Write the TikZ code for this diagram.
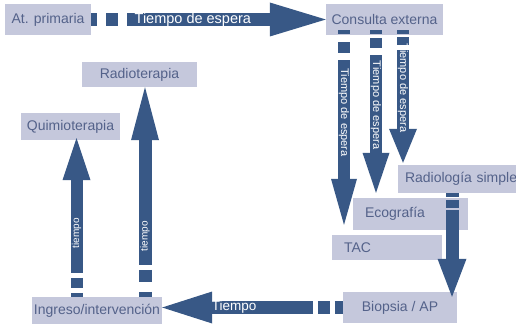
\documentclass[tikz,border=0pt]{standalone}
\usepackage{fontspec}
\setmainfont{Liberation Sans}
\usetikzlibrary{arrows.meta,calc}
\definecolor{arrowc}{RGB}{56,88,134}
\definecolor{boxc}{RGB}{197,200,220}
\definecolor{textc}{RGB}{84,98,138}
\begin{document}
\begin{tikzpicture}[x=1pt,y=-1pt,
  box/.style={fill=boxc, text=textc, font=\fontsize{14}{16}\selectfont, inner sep=0pt},
  bar/.style={draw=arrowc, line width=#1},
  harrow/.style 2 args={draw=arrowc, line width=13pt, -{Triangle[length=#1,width=#2,line width=0pt]}},
  varrow/.style 2 args={draw=arrowc, line width=12pt, -{Triangle[length=#1,width=#2,line width=0pt]}},
  lab/.style={text=white, inner sep=0pt, font=#1},
]
\useasboundingbox (0,0) rectangle (516,326);
\clip (0,0) rectangle (516,326);
\fill[white] (0,0) rectangle (516,326);

% boxes
\node[box, minimum width=86pt, minimum height=31pt] (prim) at (48,19.5) {At. primaria};
\node[box, minimum width=117pt, minimum height=31pt] (cons) at (384.5,19.5) {Consulta externa};
\node[box, text width=113pt, inner xsep=7pt, minimum height=28pt, align=left] (radsim) at (461.5,179) {Radiología simple};
\node[box, text width=91pt, inner xsep=12pt, minimum height=32pt, align=left] (eco) at (410.5,214) {Ecografía};
\node[box, text width=86pt, inner xsep=12pt, minimum height=25pt, align=left] (tac) at (387,247.5) {TAC};
\node[box, minimum width=114pt, minimum height=31pt] (bio) at (400,307.5) {Biopsia / AP};
\node[box, minimum width=130pt, minimum height=27pt] (ing) at (97,310.5) {Ingreso/intervención};
\node[box, minimum width=99pt, minimum height=27pt] (quim) at (70.5,126.5) {Quimioterapia};
\node[box, minimum width=115pt, minimum height=25pt] (radio) at (139.5,74.5) {Radioterapia};

% top arrow: At. primaria -> Consulta externa
\draw[bar=13pt] (prim.east) -- ([xshift=6pt]prim.east);
\draw[bar=13pt] ([xshift=15pt]prim.east) -- ([xshift=27pt]prim.east);
\draw[harrow={56pt}{34pt}] ([xshift=36pt]prim.east) -- (prim.east -| cons.west)
  node[lab=\fontsize{14.5}{16}\selectfont, pos=0, anchor=west, xshift=1pt] {Tiempo de espera};

% three arrows down from Consulta externa
\coordinate (c1) at ($(cons.south)+(-40.5,0)$);
\coordinate (c2) at ($(cons.south)+(-8.5,0)$);
\coordinate (c3) at ($(cons.south)+(18.5,0)$);
\draw[bar=12pt] ($(c1)+(0,-5)$) -- ($(c1)+(0,-1)$);
\draw[bar=12pt] ($(c1)+(0,7)$) -- ($(c1)+(0,18)$);
\draw[varrow={46pt}{26pt}, shorten >=10pt] ($(c1)+(0,25)$) -- (c1 |- tac.north)
  node[lab=\fontsize{11}{12}\selectfont, pos=0.3, rotate=-90] {Tiempo de espera};
\draw[bar=12pt] ($(c2)+(0,-5)$) -- ($(c2)+(0,-1)$);
\draw[bar=12pt] ($(c2)+(0,3)$) -- ($(c2)+(0,13)$);
\draw[varrow={40pt}{27pt}, shorten >=5pt] ($(c2)+(0,20)$) -- (c2 |- eco.north)
  node[lab=\fontsize{11}{12}\selectfont, pos=0.35, rotate=-90] {Tiempo de espera};
\draw[bar=12pt] ($(c3)+(0,-5)$) -- ($(c3)+(0,-1)$);
\draw[bar=12pt] ($(c3)+(0,2)$) -- ($(c3)+(0,10)$);
\draw[varrow={34pt}{28pt}, shorten >=2pt] ($(c3)+(0,15)$) -- (c3 |- radsim.north)
  node[lab=\fontsize{11}{12}\selectfont, pos=0.33, rotate=-90] {Tiempo de espera};

% Radiologia simple -> Biopsia
\coordinate (r1) at ($(radsim.south)+(-9.5,0)$);
\draw[bar=13pt] (r1) -- ($(r1)+(0,4)$);
\draw[bar=13pt] ($(r1)+(0,7)$) -- ($(r1)+(0,15)$);
\draw[varrow={38pt}{29pt}, line width=13pt, shorten >=-5pt] ($(r1)+(0,17)$) -- (r1 |- bio.north);

% Biopsia -> Ingreso
\coordinate (b0) at (bio.west);
\draw[bar=13pt] ($(b0)+(-8,0)$) -- (b0);
\draw[bar=13pt] ($(b0)+(-25,0)$) -- ($(b0)+(-13,0)$);
\draw[harrow={50pt}{32pt}] ($(b0)+(-30,0)$) -- (b0 -| ing.east)
  node[lab=\fontsize{13.5}{15}\selectfont, pos=0.713, anchor=west] {Tiempo};

% Ingreso -> Quimioterapia
\coordinate (l1) at ($(ing.north)+(-20.5,0)$);
\draw[bar=12pt] ($(l1)+(0,-4)$) -- (l1);
\draw[bar=12pt] ($(l1)+(0,-19)$) -- ($(l1)+(0,-9)$);
\draw[varrow={42pt}{28pt}, shorten >=-2pt] ($(l1)+(0,-24)$) -- (l1 |- quim.south)
  node[lab=\fontsize{10}{11}\selectfont, pos=0.30, rotate=90] {tiempo};

% Ingreso -> Radioterapia
\coordinate (l2) at ($(ing.north)+(48,0)$);
\draw[bar=13pt] ($(l2)+(0,-5)$) -- (l2);
\draw[bar=13pt] ($(l2)+(0,-27)$) -- ($(l2)+(0,-15)$);
\draw[varrow={53pt}{28pt}, line width=13pt] ($(l2)+(0,-32)$) -- (l2 |- radio.south)
  node[lab=\fontsize{10}{11}\selectfont, pos=0.16, rotate=90] {tiempo};
\end{tikzpicture}
\end{document}
